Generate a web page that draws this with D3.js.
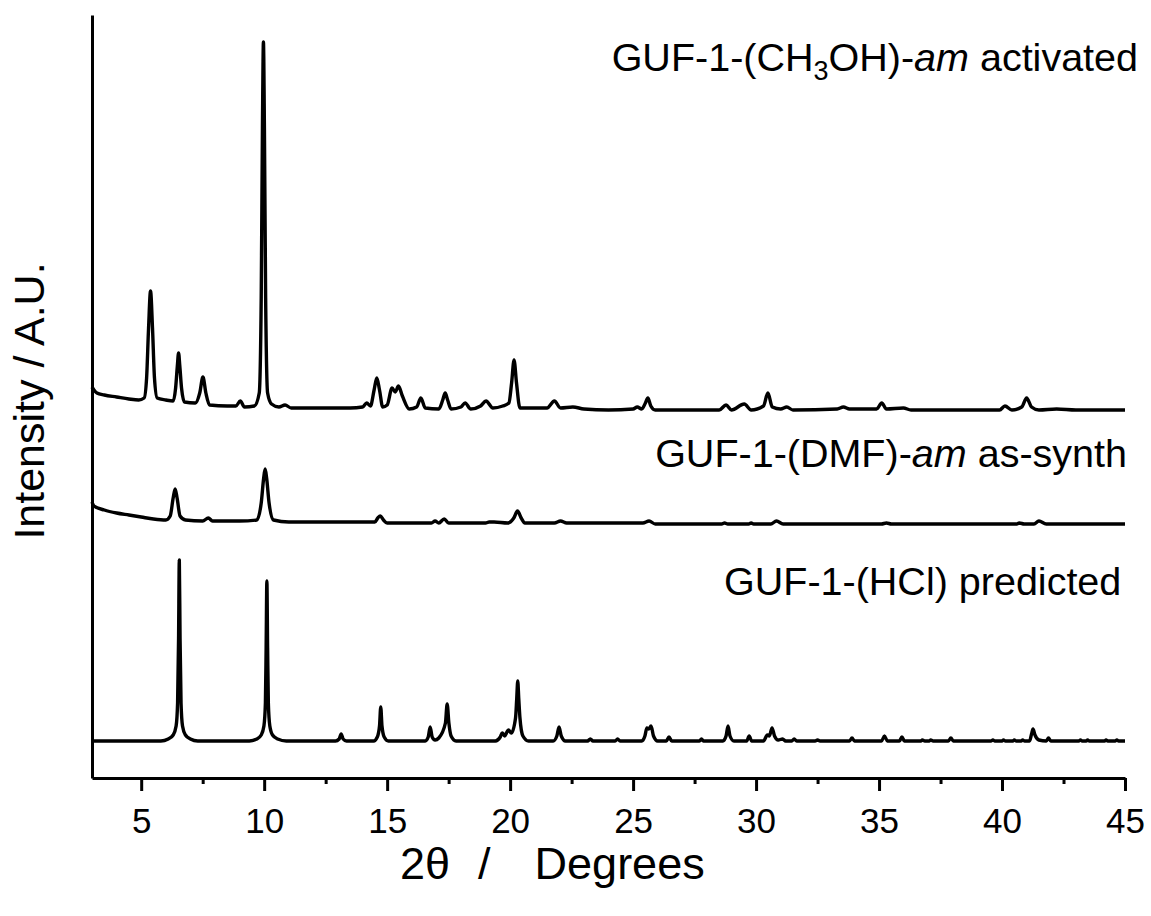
<!DOCTYPE html>
<html>
<head>
<meta charset="utf-8">
<script src="https://cdn.jsdelivr.net/npm/d3@7"></script>
<style>
  html, body { margin: 0; padding: 0; background: #fff; }
  svg text { font-family: "Liberation Sans", Arial, Helvetica, sans-serif; fill: #000; }
</style>
</head>
<body>
<svg id="chart" width="1151" height="916"></svg>
<script>
// ---------- DATA (2θ in degrees, intensity in arbitrary units, traces stacked) ----------
const xTicks = [5, 10, 15, 20, 25, 30, 35, 40, 45];
const xMinorTicks = [7.5, 12.5, 17.5, 22.5, 27.5, 32.5, 37.5, 42.5];
const xTickLabels = ["5", "10", "15", "20", "25", "30", "35", "40", "45"];

const seriesNames = ["GUF-1-(CH3OH)-am activated", "GUF-1-(DMF)-am as-synth", "GUF-1-(HCl) predicted"];

const activated = [
  [3.0,391],[3.08,388],[3.2,385],[3.5,383],[4.0,381],[4.5,379],[4.9,378],[5.12,380],[5.22,400],[5.3,450],[5.38,487],[5.46,450],[5.54,400],[5.65,380],
  [6.0,378],[6.3,377],[6.4,390],[6.47,412],[6.52,425],[6.57,412],[6.64,390],[6.76,376],[7.2,375],[7.38,385],[7.51,401],[7.63,385],[7.78,373],
  [8.5,372],[8.85,372],[9.03,377],[9.2,371],[9.6,372],[9.8,385],[9.88,480],[9.93,650],[9.97,736],[10.01,650],[10.06,480],[10.14,385],[10.3,374],
  [10.6,371],[10.85,373],[11.1,370],[12.0,370],[13.5,370],[14.0,371],[14.17,375],[14.32,372],[14.47,388],[14.58,400],[14.69,388],[14.82,371],
  [15.0,373],[15.2,390],[15.33,386],[15.46,392],[15.62,382],[15.9,369],[16.2,371],[16.37,380],[16.55,370],[17.1,369],[17.26,378],[17.36,385],
  [17.46,378],[17.6,369],[18.0,371],[18.17,375],[18.4,369],[18.8,372],[19.02,377],[19.3,370],[19.7,372],[19.95,375],[20.06,395],[20.16,418],
  [20.26,395],[20.4,370],[21.5,370],[21.8,377],[22.05,370],[22.55,371],[23.0,369],[24.0,368],[25.0,369],[25.17,371],[25.35,369],[25.5,375],
  [25.6,380],[25.72,372],[25.9,368],[27.0,368],[28.5,368],[28.78,373],[29.0,368],[29.52,374],[29.8,368],[30.3,372],[30.48,385],[30.66,371],
  [31.0,369],[31.25,371],[31.5,368],[33.3,369],[33.55,371],[33.8,369],[34.9,369],[35.11,375],[35.3,369],[35.99,370],[36.3,368],[39.9,368],
  [40.12,372],[40.4,368],[40.8,371],[41.0,380],[41.2,371],[41.5,368],[42.22,369],[43.0,368],[45.0,368]
];

const asSynth = [
  [3.0,276],[3.08,272],[3.5,268],[4.0,265],[4.5,263],[5.0,261],[5.5,259],[6.0,258],[6.18,262],[6.3,280],[6.38,289],[6.46,280],[6.58,262],
  [6.8,258],[7.5,257],[7.73,260],[7.9,257],[9.0,257],[9.7,258],[9.88,275],[9.98,300],[10.04,309],[10.1,300],[10.2,275],[10.38,258],
  [11.0,256],[12.0,256],[13.0,256],[14.0,256],[14.5,256],[14.62,260],[14.72,262],[14.85,258],[15.0,255],[16.0,255],[16.8,255],[16.95,257],
  [17.1,255],[17.32,259],[17.5,255],[18.0,255],[19.0,255],[19.15,256],[19.35,256],[19.9,255],[20.15,260],[20.3,267],[20.45,260],[20.6,255],
  [21.8,255],[22.05,257],[22.3,255],[25.4,255],[25.65,257],[25.9,254],[28.6,254],[28.72,255],[28.85,254],[29.7,254],[29.8,255],[29.9,254],
  [30.6,254],[30.83,257],[31.1,254],[35.1,254],[35.3,255],[35.5,254],[40.6,254],[40.7,255],[40.9,254],[41.3,254],[41.5,257],[41.8,254],[45.0,254]
];

const predicted = [
  [3.0,37],[5.0,37],[5.8,37],[6.1,39],[6.3,43],[6.42,52],[6.48,75],[6.52,140],[6.55,218],[6.58,140],[6.62,75],[6.68,52],[6.8,43],[7.0,39],[7.3,37],
  [9.4,37],[9.7,39],[9.88,43],[9.99,52],[10.05,75],[10.08,130],[10.11,197],[10.14,130],[10.17,75],[10.23,52],[10.34,43],[10.55,39],[10.9,37],
  [12.9,37],[13.05,39],[13.13,44],[13.21,39],[13.35,37],
  [14.45,37],[14.6,41],[14.69,52],[14.74,71],[14.79,52],[14.88,41],[15.05,37],
  [16.55,37],[16.67,41],[16.75,51],[16.83,41],[16.95,38],[17.1,40],[17.37,55],[17.44,74],[17.51,55],[17.6,42],[17.8,37],
  [19.4,37],[19.6,41],[19.68,45],[19.78,42],[19.85,45],[19.93,48],[20.05,45],[20.22,60],[20.27,80],[20.31,97],[20.35,80],[20.4,60],[20.52,42],[20.75,37],
  [21.75,37],[21.9,42],[21.99,51],[22.08,42],[22.25,37],
  [23.15,37],[23.26,39],[23.37,37],[24.27,37],[24.37,39],[24.47,37],
  [25.35,37],[25.48,42],[25.56,50],[25.64,49],[25.73,52],[25.83,42],[26.0,37],[26.35,37],[26.46,41],[26.57,37],
  [27.7,37],[27.78,39],[27.86,37],
  [28.65,37],[28.78,42],[28.86,52],[28.94,42],[29.1,37],[29.62,37],[29.72,42],[29.82,37],
  [30.3,37],[30.46,43],[30.54,42],[30.65,50],[30.75,42],[30.9,38],[31.08,39],[31.2,37],[31.45,37],[31.55,39],[31.65,37],
  [32.4,37],[32.5,38],[32.6,37],
  [33.8,37],[33.9,40],[34.0,37],
  [35.1,37],[35.22,42],[35.34,37],[35.83,37],[35.93,41],[36.03,37],
  [36.7,37],[36.76,38],[36.86,37],[37.05,37],[37.1,38],[37.2,37],
  [37.82,37],[37.92,40],[38.02,37],
  [39.55,37],[39.63,38],[39.71,37],[40.0,37],[40.06,38],[40.14,37],[40.44,37],[40.5,38],[40.58,37],[40.78,37],[40.84,38],[40.92,37],
  [41.12,37],[41.2,44],[41.26,49],[41.34,43],[41.5,38],[41.8,37],[41.89,40],[41.98,37],
  [43.12,37],[43.19,38],[43.26,37],[43.42,37],[43.48,38],[43.55,37],
  [44.17,37],[44.23,38],[44.3,37],[44.6,37],[44.67,38],[44.74,37],[45.0,37]
];

// ---------- CHART ----------
const W = 1151, H = 916;
const margin = { left: 92, right: 26, top: 15, bottom: 138 };
const svg = d3.select("#chart");

const x = d3.scaleLinear().domain([3, 45]).range([margin.left, W - margin.right]);
const y = d3.scaleLinear().domain([0, 763]).range([H - margin.bottom, margin.top]);

const line = d3.line().x(d => x(d[0])).y(d => y(d[1])).curve(d3.curveMonotoneX);

[activated, asSynth, predicted].forEach(s => {
  svg.append("path")
    .datum(s)
    .attr("d", line)
    .attr("fill", "none")
    .attr("stroke", "#000")
    .attr("stroke-width", 3.4)
    .attr("stroke-linejoin", "round");
});

// bottom axis: major ticks with labels
const xAxis = d3.axisBottom(x)
  .tickValues(xTicks)
  .tickFormat((d, i) => xTickLabels[i])
  .tickSize(13)
  .tickSizeOuter(0)
  .tickPadding(17);

const gx = svg.append("g")
  .attr("transform", `translate(0,${y(0)})`)
  .call(xAxis);
gx.select(".domain").attr("stroke", "#000").attr("stroke-width", 3);
gx.selectAll(".tick line").attr("stroke", "#000").attr("stroke-width", 3);
gx.selectAll(".tick text").attr("font-size", 35).attr("font-family", '"Liberation Sans", Arial, sans-serif');

// minor ticks
const xMinor = d3.axisBottom(x).tickValues(xMinorTicks).tickSize(6).tickFormat("").tickSizeOuter(0);
const gm = svg.append("g").attr("transform", `translate(0,${y(0)})`).call(xMinor);
gm.select(".domain").remove();
gm.selectAll(".tick line").attr("stroke", "#000").attr("stroke-width", 3);

// left axis line (no ticks)
const yAxis = d3.axisLeft(y).tickValues([]).tickSizeOuter(0);
const gy = svg.append("g").attr("transform", `translate(${margin.left},0)`).call(yAxis);
gy.select(".domain").attr("stroke", "#000").attr("stroke-width", 3);

// axis titles
const xt = svg.append("text")
  .attr("x", 400).attr("y", 879)
  .attr("text-anchor", "start")
  .attr("font-size", 45);
xt.append("tspan").text("2θ");
xt.append("tspan").attr("dx", 28).text("/");
xt.append("tspan").attr("dx", 44).text("Degrees");

svg.append("text")
  .attr("transform", `translate(44,${y(377)}) rotate(-90)`)
  .attr("text-anchor", "middle")
  .attr("font-size", 43)
  .text("Intensity / A.U.");

// series labels
const lab1 = svg.append("text")
  .attr("x", x(45.53)).attr("y", 71)
  .attr("text-anchor", "end")
  .attr("font-size", 39.5);
lab1.append("tspan").text("GUF-1-(CH");
lab1.append("tspan").attr("font-size", 27).attr("dy", 9).text("3");
lab1.append("tspan").attr("dy", -9).text("OH)-");
lab1.append("tspan").attr("font-style", "italic").text("am");
lab1.append("tspan").text(" activated");

const lab2 = svg.append("text")
  .attr("x", x(45.08)).attr("y", 467)
  .attr("text-anchor", "end")
  .attr("font-size", 39.5);
lab2.append("tspan").text("GUF-1-(DMF)-");
lab2.append("tspan").attr("font-style", "italic").text("am");
lab2.append("tspan").text(" as-synth");

svg.append("text")
  .attr("x", x(44.85)).attr("y", 595)
  .attr("text-anchor", "end")
  .attr("font-size", 39.5)
  .text("GUF-1-(HCl) predicted");
</script>
</body>
</html>
